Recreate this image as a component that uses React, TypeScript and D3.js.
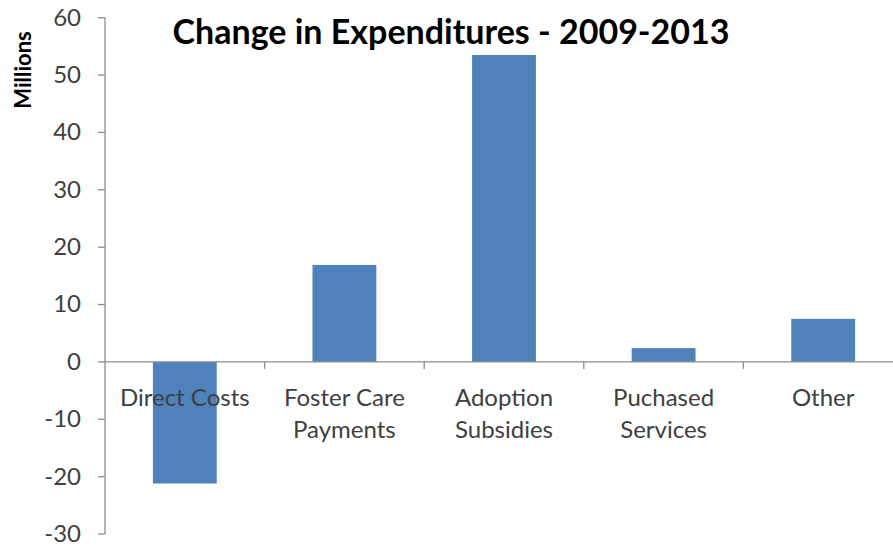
import React from "react";
import * as d3 from "d3";

const categories = ["Direct Costs", "Foster Care Payments", "Adoption Subsidies", "Puchased Services", "Other"];
const categoryLines = [["Direct Costs"], ["Foster Care", "Payments"], ["Adoption", "Subsidies"], ["Puchased", "Services"], ["Other"]];
const values = [-21.2, 16.9, 53.5, 2.4, 7.5];
const yTicks = [-30, -20, -10, 0, 10, 20, 30, 40, 50, 60];
const title = "Change in Expenditures - 2009-2013";
const yLabel = "Millions";

const W = 893;
const H = 546;
const left = 105;
const right = 903;
const top = 17.7;
const bottom = 534;

export default function App() {
  const x = d3.scaleBand<string>().domain(categories).range([left, right]).paddingInner(0).paddingOuter(0);
  const y = d3.scaleLinear().domain([-30, 60]).range([bottom, top]);
  const bw = x.bandwidth() * 0.4;
  const axisColor = "#8c8c8c";
  const font = "Lato, 'Open Sans', sans-serif";
  const y0 = y(0);
  return (
    <svg width={W} height={H} style={{ position: "absolute", left: 0, top: 0, background: "#fff" }} fontFamily={font}>
      <rect x={0} y={0} width={W} height={H} fill="#fff" />
      {values.map((v, i) => {
        const cx = x(categories[i])! + x.bandwidth() / 2;
        return (
          <rect key={i} x={cx - bw / 2} y={Math.min(y(v), y0)} width={bw} height={Math.abs(y(v) - y0)} fill="#4F81BD" />
        );
      })}
      <line x1={left} x2={left} y1={top} y2={bottom} stroke={axisColor} strokeWidth={1.3} />
      {yTicks.map((t) => (
        <g key={t}>
          <line x1={left - 7} x2={left} y1={y(t)} y2={y(t)} stroke={axisColor} strokeWidth={1.3} />
          <text x={81} y={y(t)} dy="0.33em" textAnchor="end" fontSize={24} fill="#404040">{t}</text>
        </g>
      ))}
      <line x1={left} x2={W} y1={y0} y2={y0} stroke={axisColor} strokeWidth={1.3} />
      {categories.map((c, i) => {
        const bx = x(c)!;
        return i > 0 ? <line key={"t" + i} x1={bx} x2={bx} y1={y0} y2={y0 + 7} stroke={axisColor} strokeWidth={1.3} /> : null;
      })}
      {categoryLines.map((lines, i) => {
        const cx = x(categories[i])! + x.bandwidth() / 2;
        return (
          <text key={"c" + i} x={cx} y={406} textAnchor="middle" fontSize={24} fill="#404040">
            {lines.map((l, j) => (
              <tspan key={j} x={cx} dy={j === 0 ? 0 : 32}>{l}</tspan>
            ))}
          </text>
        );
      })}
      <text x={451} y={44} textAnchor="middle" fontSize={34} fontWeight="bold" fill="#000">{title}</text>
      <text transform="translate(31,70) rotate(-90)" textAnchor="middle" fontSize={22} fontWeight="bold" fill="#000">{yLabel}</text>
    </svg>
  );
}
